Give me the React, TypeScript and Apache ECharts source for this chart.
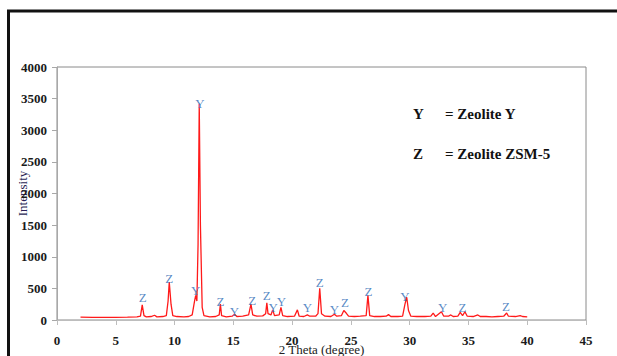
import React, { useEffect, useRef } from "react";
import * as echarts from "echarts";

// XRD pattern: 2 theta (degree) and intensity
const twoTheta = [
  2.0, 3.0, 4.0, 5.0, 6.0, 6.8, 7.1, 7.25, 7.4, 7.6, 8.0, 8.3, 8.5, 9.0, 9.3, 9.45, 9.55, 9.7, 9.85, 10.2,
  10.8, 11.2, 11.5, 11.7, 11.8, 11.9, 12.0, 12.1, 12.2, 12.35, 12.5, 13.0, 13.5, 13.8, 13.9, 14.0, 14.4,
  14.9, 15.1, 15.3, 15.8, 16.3, 16.5, 16.65, 17.0, 17.5, 17.75, 17.85, 17.95, 18.2, 18.35, 18.5, 18.9,
  19.05, 19.2, 19.6, 20.2, 20.45, 20.6, 21.0, 21.3, 21.5, 22.0, 22.2, 22.35, 22.5, 22.8, 23.3, 23.6, 23.8,
  24.2, 24.4, 24.6, 24.8, 25.3, 25.8, 26.3, 26.45, 26.6, 27.0, 27.5, 28.0, 28.2, 28.4, 29.0, 29.4, 29.6,
  29.75, 29.9, 30.1, 30.6, 31.3, 31.8, 32.0, 32.2, 32.7, 32.9, 33.3, 33.5, 33.7, 34.1, 34.3, 34.5, 34.7,
  34.9, 35.4, 35.8, 36.0, 36.5, 37.0, 37.5, 38.0, 38.25, 38.4, 39.0, 39.4, 39.6, 40.0,
];
const intensity = [
  45, 40, 42, 40, 45, 50, 60, 240, 70, 50, 55, 75, 50, 55, 70, 300, 600, 250, 70, 55,
  50, 55, 80, 300, 390, 300, 1200, 3420, 1500, 200, 70, 50, 55, 80, 250, 70, 50,
  60, 90, 55, 60, 80, 250, 80, 60, 65, 100, 270, 100, 80, 160, 70, 80,
  200, 70, 55, 60, 160, 60, 55, 80, 60, 60, 100, 500, 100, 60, 55, 90, 60,
  70, 150, 110, 60, 55, 60, 70, 390, 70, 55, 55, 60, 85, 55, 55, 60, 250,
  360, 150, 60, 55, 55, 60, 110, 55, 130, 60, 60, 80, 55, 60, 120, 70, 130,
  60, 55, 80, 55, 55, 50, 55, 60, 110, 60, 55, 70, 55, 50,
];

// Phase annotations
const markX = [7.3, 9.55, 11.8, 12.15, 13.9, 15.1, 16.6, 17.85, 18.4, 19.1, 21.3, 22.35, 23.6, 24.5, 26.5, 29.6, 32.8, 34.5, 38.2];
const markY = [350, 650, 470, 3430, 285, 140, 315, 395, 190, 285, 190, 585, 160, 270, 450, 370, 190, 190, 210];
const markText = ["Z", "Z", "Y", "Y", "Z", "Y", "Z", "Z", "Y", "Y", "Y", "Z", "Y", "Z", "Z", "Y", "Y", "Z", "Z"];

const xTicks = [0, 5, 10, 15, 20, 25, 30, 35, 40, 45];
const yTicks = [0, 500, 1000, 1500, 2000, 2500, 3000, 3500, 4000];

const legendSymbols = ["Y", "Z"];
const legendNames = ["= Zeolite Y", "= Zeolite ZSM-5"];

const SERIF = "'Liberation Serif', 'Times New Roman', serif";

export default function App() {
  const ref = useRef<HTMLDivElement>(null);
  useEffect(() => {
    if (!ref.current) return;
    const chart = echarts.init(ref.current, null, { renderer: "svg" });
    const line = twoTheta.map((x, i) => [x, intensity[i]]);
    const marks = markX.map((x, i) => ({ value: [x, markY[i]], name: markText[i] }));
    chart.setOption({
      animation: false,
      backgroundColor: "#ffffff",
      grid: {
        left: 57,
        right: 31,
        top: 67,
        bottom: 36,
        containLabel: false,
        outerBoundsMode: "none",
        show: true,
        borderColor: "#8a8a8a",
        borderWidth: 1,
      },
      xAxis: {
        type: "value",
        min: xTicks[0],
        max: xTicks[xTicks.length - 1],
        interval: 5,
        name: "2 Theta (degree)",
        nameLocation: "middle",
        nameGap: 23,
        nameMoveOverlap: false,
        nameTextStyle: { fontFamily: SERIF, fontSize: 13, color: "#222" },
        axisLine: { lineStyle: { color: "#bdbdbd" } },
        axisTick: { show: true, length: 5, lineStyle: { color: "#bdbdbd" } },
        axisLabel: {
          margin: 14,
          fontFamily: SERIF,
          fontSize: 13,
          fontWeight: "bold",
          color: "#1a1a1a",
          formatter: (v: number) => String(v),
        },
        splitLine: { show: false },
      },
      yAxis: {
        type: "value",
        min: yTicks[0],
        max: yTicks[yTicks.length - 1],
        interval: 500,
        name: "Intensity",
        nameLocation: "middle",
        nameGap: 28,
        nameMoveOverlap: false,
        nameTextStyle: { fontFamily: SERIF, fontSize: 13, color: "#2a1f55" },
        axisLine: { show: true, lineStyle: { color: "#a8a8a8" } },
        axisTick: { show: true, length: 5, lineStyle: { color: "#a8a8a8" } },
        axisLabel: {
          margin: 10,
          fontFamily: SERIF,
          fontSize: 13,
          fontWeight: "bold",
          color: "#1a1a1a",
          formatter: (v: number) => String(v),
        },
        splitLine: { show: false },
      },
      series: [
        {
          type: "line",
          data: line,
          showSymbol: false,
          symbol: "none",
          lineStyle: { color: "#ff1a1a", width: 1.3 },
          z: 2,
        },
        {
          type: "scatter",
          data: marks,
          symbolSize: 0,
          z: 3,
          label: {
            show: true,
            position: "inside",
            formatter: (p: any) => p.name,
            fontFamily: SERIF,
            fontSize: 13,
            color: "#2f6db6",
          },
        },
      ],
      graphic: [
        {
          type: "rect",
          shape: { x: 8.5, y: 11, width: 700, height: 400 },
          style: { fill: "none", stroke: "#111", lineWidth: 3 },
          silent: true,
        },
        ...legendSymbols.map((s, i) => ({
          type: "text",
          left: 413,
          top: 106 + i * 40,
          style: { text: s, font: `bold 15px ${SERIF}`, fill: "#111" },
        })),
        ...legendNames.map((s, i) => ({
          type: "text",
          left: 445,
          top: 106 + i * 40,
          style: { text: s, font: `bold 15px ${SERIF}`, fill: "#111" },
        })),
      ],
    });
    return () => chart.dispose();
  }, []);
  return (
    <div
      ref={ref}
      style={{ position: "fixed", left: 0, top: 0, width: 617, height: 356, background: "#fff" }}
    />
  );
}
